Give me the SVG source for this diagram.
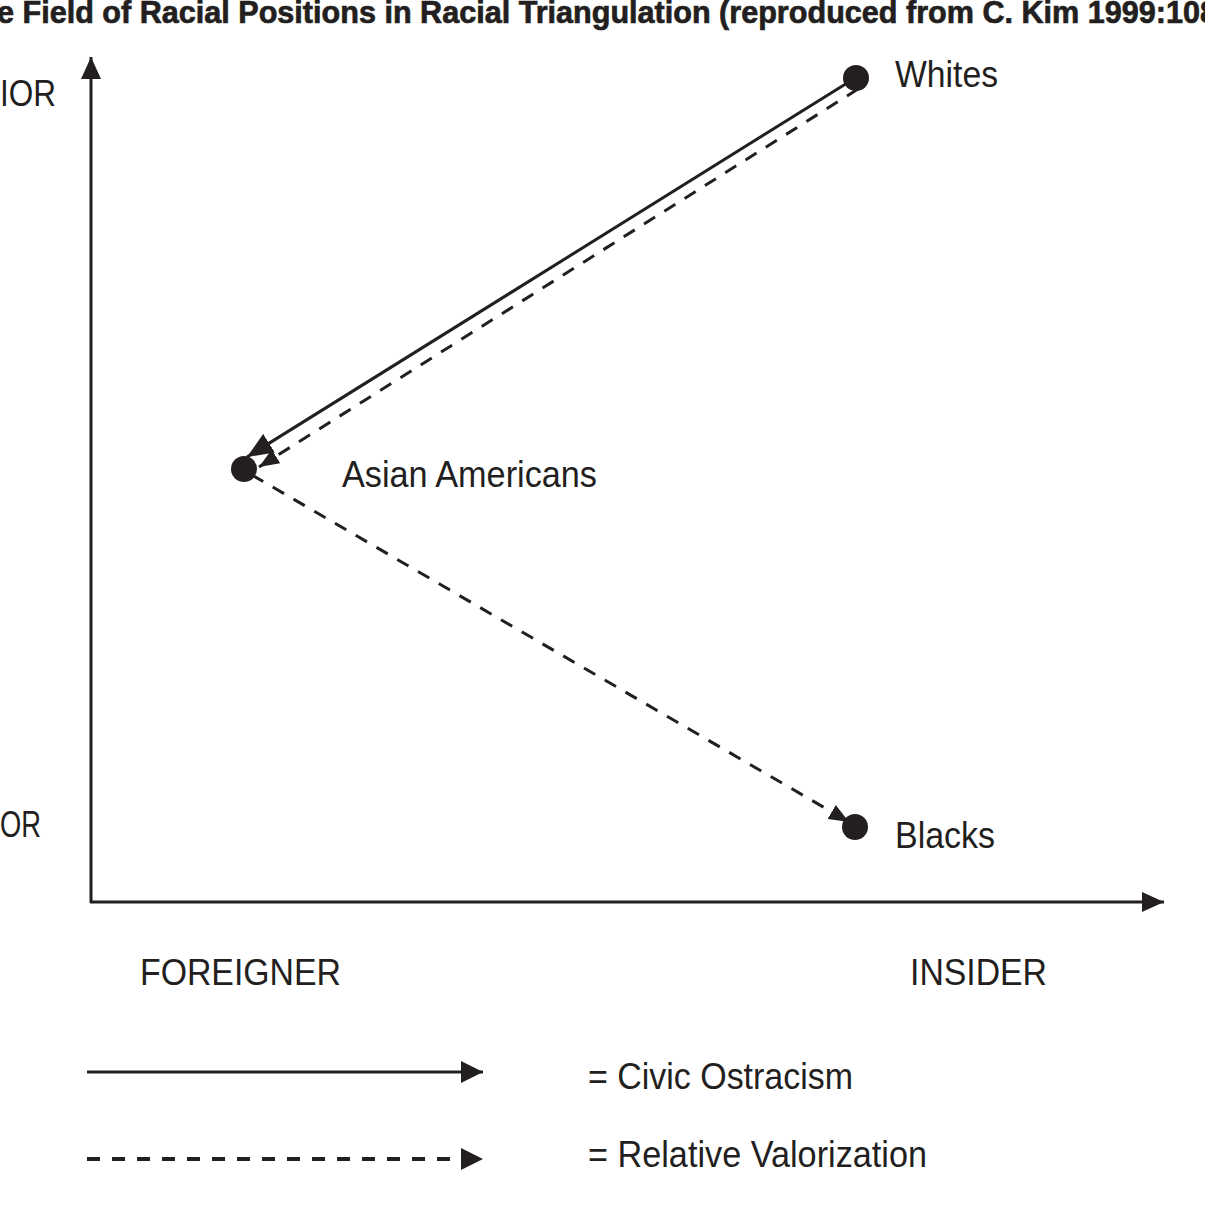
<svg xmlns="http://www.w3.org/2000/svg" width="1205" height="1206" viewBox="0 0 1205 1206">
<style>
.lbl{font-family:"Liberation Sans",Arial,sans-serif;font-size:37px;fill:#231f20}
.ttl{font-family:"Liberation Sans",Arial,sans-serif;font-size:31px;font-weight:bold;fill:#231f20;stroke:#231f20;stroke-width:0.7}
.ln{stroke:#231f20;stroke-width:3;fill:none}
.dash{stroke-dasharray:13 11}
.dot{fill:#231f20}
</style>
<defs>
<marker id="ah" markerUnits="userSpaceOnUse" viewBox="0 0 22 20" refX="22" refY="10" markerWidth="22" markerHeight="20" orient="auto"><path d="M0,0 L22,10 L0,20 z" fill="#231f20"/></marker>
<marker id="ahl" markerUnits="userSpaceOnUse" viewBox="0 0 22 22" refX="22" refY="11" markerWidth="22" markerHeight="22" orient="auto"><path d="M0,0 L22,11 L0,22 z" fill="#231f20"/></marker>
<marker id="ahb" markerUnits="userSpaceOnUse" viewBox="0 0 26 22" refX="26" refY="11" markerWidth="26" markerHeight="22" orient="auto"><path d="M0,0 L26,11 L0,22 z" fill="#231f20"/></marker>
<marker id="ahs" markerUnits="userSpaceOnUse" viewBox="0 0 20 16" refX="20" refY="8" markerWidth="20" markerHeight="16" orient="auto"><path d="M0,0 L20,8 L0,16 z" fill="#231f20"/></marker>
</defs>
<text class="ttl" x="-3" y="23" textLength="1220" lengthAdjust="spacingAndGlyphs">e Field of Racial Positions in Racial Triangulation (reproduced from C. Kim 1999:108</text>
<g id="axes">
<line class="ln" x1="91" y1="903" x2="91" y2="57" marker-end="url(#ah)"/>
<line class="ln" x1="90" y1="902" x2="1164" y2="902" marker-end="url(#ah)"/>
<text class="lbl" x="0" y="106" textLength="56" lengthAdjust="spacingAndGlyphs">IOR</text>
<text class="lbl" x="0" y="837" textLength="41" lengthAdjust="spacingAndGlyphs">OR</text>
<text class="lbl" x="140" y="985" textLength="201" lengthAdjust="spacingAndGlyphs">FOREIGNER</text>
<text class="lbl" x="910" y="985" textLength="137" lengthAdjust="spacingAndGlyphs">INSIDER</text>
</g>
<g id="connectors">
<line class="ln" x1="852" y1="80" x2="247" y2="457" marker-end="url(#ahb)"/>
<line class="ln dash" x1="858" y1="89" x2="259" y2="467" marker-end="url(#ahs)"/>
<line class="ln dash" x1="252" y1="475" x2="849" y2="822" marker-end="url(#ahs)"/>
</g>
<g id="whites">
<circle class="dot" cx="856" cy="78" r="13"/>
<text class="lbl" x="895" y="87" textLength="103" lengthAdjust="spacingAndGlyphs">Whites</text>
</g>
<g id="asian-americans">
<circle class="dot" cx="244" cy="469" r="13"/>
<text class="lbl" x="342" y="487" textLength="255" lengthAdjust="spacingAndGlyphs">Asian Americans</text>
</g>
<g id="blacks">
<circle class="dot" cx="855" cy="827" r="13"/>
<text class="lbl" x="895" y="848" textLength="100" lengthAdjust="spacingAndGlyphs">Blacks</text>
</g>
<g id="legend">
<line class="ln" x1="87" y1="1072" x2="483" y2="1072" marker-end="url(#ahl)"/>
<text class="lbl" x="588" y="1089" textLength="265" lengthAdjust="spacingAndGlyphs">= Civic Ostracism</text>
<line class="ln" style="stroke-width:4;stroke-dasharray:13 12" x1="87" y1="1159" x2="483" y2="1159" marker-end="url(#ahl)"/>
<text class="lbl" x="588" y="1167" textLength="339" lengthAdjust="spacingAndGlyphs">= Relative Valorization</text>
</g>
</svg>
